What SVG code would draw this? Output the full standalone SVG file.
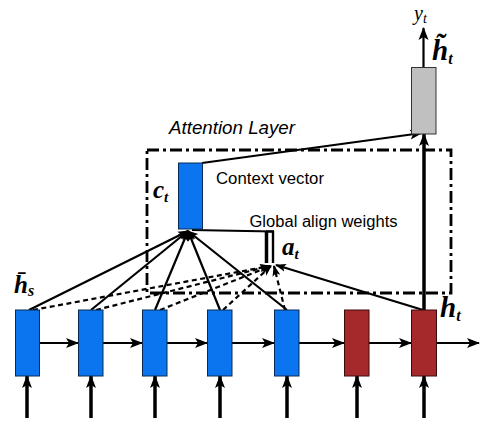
<svg xmlns="http://www.w3.org/2000/svg" width="497" height="438" viewBox="0 0 497 438">
<defs>
<marker id="ah" markerUnits="userSpaceOnUse" markerWidth="14" markerHeight="12" refX="12" refY="6" orient="auto">
<path d="M0,1 L13,6 L0,11 L3,6 z" fill="#000"/>
</marker>
<marker id="ahs" markerUnits="userSpaceOnUse" markerWidth="12" markerHeight="10" refX="10" refY="5" orient="auto">
<path d="M0,1 L11,5 L0,9 L2.5,5 z" fill="#000"/>
</marker>
</defs>
<style>
.blue{fill:#0b74ef;stroke:#0a2a55;stroke-width:1}
.red{fill:#a5282a;stroke:#3a0c0c;stroke-width:1}
.gray{fill:#c0c0c0;stroke:#333;stroke-width:1}
.ln{stroke:#000;stroke-width:2.2;fill:none}
.thick{stroke:#000;stroke-width:3.5;fill:none}
.dash{stroke:#000;stroke-width:2.2;fill:none;stroke-dasharray:5 3.5}
.lbl{font-family:"Liberation Sans",Arial,sans-serif;fill:#000}
.math{font-family:"Liberation Serif","DejaVu Serif",serif;font-style:italic;font-weight:bold;fill:#000}
.mathn{font-family:"Liberation Serif","DejaVu Serif",serif;font-style:italic;fill:#000}
</style>
<rect width="497" height="438" fill="#fff"/>

<g id="attention-layer">
<rect x="147" y="150" width="304" height="143" fill="none" stroke="#000" stroke-width="2.8" stroke-dasharray="12 4 3 4"/>
<text class="lbl" x="169" y="134" font-size="18.5" font-style="italic" textLength="126" lengthAdjust="spacingAndGlyphs">Attention Layer</text>
</g>

<g id="connectors">
<!-- horizontal recurrence -->
<line class="ln" x1="39" y1="343" x2="78" y2="343" stroke-width="2.6" marker-end="url(#ah)"/>
<line class="ln" x1="103" y1="343" x2="142" y2="343" stroke-width="2.6" marker-end="url(#ah)"/>
<line class="ln" x1="167" y1="343" x2="207" y2="343" stroke-width="2.6" marker-end="url(#ah)"/>
<line class="ln" x1="232" y1="343" x2="274" y2="343" stroke-width="2.6" marker-end="url(#ah)"/>
<line class="ln" x1="299" y1="343" x2="344" y2="343" stroke-width="2" marker-end="url(#ah)"/>
<line class="ln" x1="369" y1="343" x2="411" y2="343" stroke-width="2.8" marker-end="url(#ah)"/>
<line class="ln" x1="437" y1="343" x2="479" y2="343" stroke-width="2" marker-end="url(#ah)"/>
<!-- inputs -->
<line class="thick" x1="27" y1="418" x2="27" y2="376" marker-end="url(#ah)"/>
<line class="thick" x1="91" y1="418" x2="91" y2="376" marker-end="url(#ah)"/>
<line class="thick" x1="155" y1="418" x2="155" y2="376" marker-end="url(#ah)"/>
<line class="thick" x1="220" y1="418" x2="220" y2="376" marker-end="url(#ah)"/>
<line class="thick" x1="287" y1="418" x2="287" y2="376" marker-end="url(#ah)"/>
<line class="thick" x1="357" y1="418" x2="357" y2="376" marker-end="url(#ah)"/>
<line class="thick" x1="424" y1="418" x2="424" y2="376" marker-end="url(#ah)"/>
<!-- h_t to h~_t -->
<line class="thick" x1="424" y1="310" x2="424" y2="134" stroke-width="4" marker-end="url(#ah)"/>
<!-- c_t to h~_t -->
<line class="ln" x1="202" y1="163" x2="422" y2="133" marker-end="url(#ah)"/>
<!-- output -->
<line class="ln" x1="423.5" y1="67" x2="423.5" y2="28" stroke-width="2.6" marker-end="url(#ah)"/>
<!-- solid lines to c_t -->
<line class="ln" x1="29" y1="310" x2="188" y2="231" marker-end="url(#ahs)"/>
<line class="ln" x1="91" y1="310" x2="188" y2="231" marker-end="url(#ahs)"/>
<line class="ln" x1="155" y1="310" x2="188" y2="231" marker-end="url(#ahs)"/>
<line class="ln" x1="220" y1="310" x2="188" y2="231" marker-end="url(#ahs)"/>
<line class="ln" x1="287" y1="310" x2="188" y2="231" marker-end="url(#ahs)"/>
<!-- dashed lines to a_t -->
<line class="dash" x1="33" y1="310" x2="270" y2="266" marker-end="url(#ahs)"/>
<line class="dash" x1="96" y1="310" x2="270" y2="266" marker-end="url(#ahs)"/>
<line class="dash" x1="160" y1="310" x2="271" y2="266" marker-end="url(#ahs)"/>
<line class="dash" x1="223" y1="310" x2="271" y2="266" marker-end="url(#ahs)"/>
<line class="dash" x1="285" y1="310" x2="274" y2="266" marker-end="url(#ahs)"/>
<!-- h_t to a_t -->
<line class="ln" x1="423" y1="310" x2="276" y2="265" marker-end="url(#ahs)"/>
<!-- a_t to c_t -->
<polyline class="ln" points="192,230 273,231.5 273,263"/>
<line class="thick" x1="266.5" y1="231" x2="266.5" y2="263" stroke-width="3"/>
<line class="ln" x1="266" y1="231.5" x2="274" y2="231.5" stroke-width="3"/>
<line class="ln" x1="273" y1="231" x2="273" y2="263" stroke-width="3"/>
</g>

<g id="ct">
<rect class="blue" x="178.5" y="163" width="24" height="66"/>
<text class="math" x="153" y="198" font-size="25">c<tspan font-size="15" dy="4">t</tspan></text>
<text class="lbl" x="216" y="184" font-size="16" textLength="108" lengthAdjust="spacingAndGlyphs">Context vector</text>
</g>

<g id="at">
<text class="lbl" x="249.5" y="227" font-size="16" textLength="148" lengthAdjust="spacingAndGlyphs">Global align weights</text>
<text class="math" x="282" y="255" font-size="25">a<tspan font-size="15" dy="4">t</tspan></text>
</g>

<g id="htilde">
<rect class="gray" x="411.5" y="67.5" width="24.5" height="66.5"/>
<text class="math" x="432" y="60" font-size="29">h̃<tspan font-size="16" dy="4">t</tspan></text>
<text class="mathn" x="414" y="20" font-size="20">y<tspan font-size="14" dy="3">t</tspan></text>
</g>

<g id="h1"><rect class="blue" x="15.5" y="310" width="24" height="66"/>
<text class="math" x="14" y="293" font-size="25">h̄<tspan font-size="16" dy="3">s</tspan></text></g>
<g id="h2"><rect class="blue" x="78.5" y="310" width="24.5" height="66"/></g>
<g id="h3"><rect class="blue" x="142.5" y="310" width="24.5" height="66"/></g>
<g id="h4"><rect class="blue" x="207.5" y="310" width="24.5" height="66"/></g>
<g id="h5"><rect class="blue" x="274.5" y="310" width="24.5" height="66"/></g>
<g id="h6"><rect class="red" x="344.5" y="310" width="24.5" height="66"/></g>
<g id="h7"><rect class="red" x="411.5" y="310" width="25" height="66"/>
<text class="math" x="440" y="317" font-size="29">h<tspan font-size="16" dy="4">t</tspan></text></g>
</svg>
